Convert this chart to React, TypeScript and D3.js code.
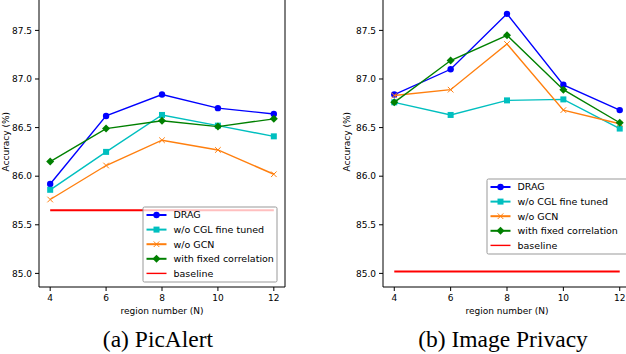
import React, { useRef, useEffect } from 'react';
import * as d3 from 'd3';

// region numbers (N)
const regions = [4, 6, 8, 10, 12];

// (a) PicAlert
const picDrag = [85.92, 86.62, 86.84, 86.70, 86.64];
const picCgl = [85.86, 86.25, 86.63, 86.52, 86.41];
const picGcn = [85.76, 86.11, 86.37, 86.27, 86.02];
const picFixed = [86.15, 86.49, 86.57, 86.51, 86.59];
const picBaseline = 85.65;

// (b) Image Privacy
const privDrag = [86.84, 87.10, 87.67, 86.94, 86.68];
const privCgl = [86.76, 86.63, 86.78, 86.79, 86.49];
const privGcn = [86.83, 86.89, 87.36, 86.68, 86.54];
const privFixed = [86.76, 87.19, 87.45, 86.89, 86.55];
const privBaseline = 85.02;

const yTicks = [85.0, 85.5, 86.0, 86.5, 87.0, 87.5];
const xTicks = [4, 6, 8, 10, 12];
const seriesNames = ['DRAG', 'w/o CGL fine tuned', 'w/o GCN', 'with fixed correlation', 'baseline'];
const seriesColors = ['#0000ff', '#00bfbf', '#ff7f0e', '#008000', '#ff0000'];
const seriesMarkers = ['circle', 'square', 'x', 'diamond', 'none'];

const FONT = 'DejaVu Sans, sans-serif';

function drawMarker(g, type, x, y, color) {
  if (type === 'circle') {
    g.append('circle').attr('cx', x).attr('cy', y).attr('r', 3.2).attr('fill', color);
  } else if (type === 'square') {
    g.append('rect').attr('x', x - 3).attr('y', y - 3).attr('width', 6).attr('height', 6).attr('fill', color);
  } else if (type === 'diamond') {
    const s = 4;
    g.append('path')
      .attr('d', `M${x},${y - s}L${x + s},${y}L${x},${y + s}L${x - s},${y}Z`)
      .attr('fill', color);
  } else if (type === 'x') {
    const s = 2.8;
    g.append('path')
      .attr('d', `M${x - s},${y - s}L${x + s},${y + s}M${x - s},${y + s}L${x + s},${y - s}`)
      .attr('stroke', color).attr('stroke-width', 1);
  }
}

function drawPanel(svg, opts) {
  const { left, right, series, baseline, legend, caption, captionX, ylabelX } = opts;
  const bottom = 287;
  const x = d3.scaleLinear().domain([3.6, 12.4]).range([left, right]);
  const y = d3.scaleLinear().domain([84.86, 87.85]).range([bottom, bottom - 2.99 * 97.2]);

  const g = svg.append('g');

  // baseline
  g.append('line')
    .attr('x1', x(4)).attr('x2', x(12))
    .attr('y1', y(baseline)).attr('y2', y(baseline))
    .attr('stroke', seriesColors[4]).attr('stroke-width', 2);

  const line = d3.line().x((d, i) => x(regions[i])).y(d => y(d));
  series.forEach((vals, si) => {
    g.append('path')
      .attr('d', line(vals))
      .attr('fill', 'none')
      .attr('stroke', seriesColors[si])
      .attr('stroke-width', 1.4);
    vals.forEach((v, i) => drawMarker(g, seriesMarkers[si], x(regions[i]), y(v), seriesColors[si]));
  });

  // spines
  g.append('line').attr('x1', left).attr('x2', left).attr('y1', y.range()[1]).attr('y2', bottom)
    .attr('stroke', '#000').attr('stroke-width', 1);
  g.append('line').attr('x1', left).attr('x2', right).attr('y1', bottom).attr('y2', bottom)
    .attr('stroke', '#000').attr('stroke-width', 1);
  g.append('line').attr('x1', right).attr('x2', right).attr('y1', y.range()[1]).attr('y2', bottom)
    .attr('stroke', '#000').attr('stroke-width', 1);

  // y ticks
  yTicks.forEach(t => {
    g.append('line').attr('x1', left - 4).attr('x2', left).attr('y1', y(t)).attr('y2', y(t))
      .attr('stroke', '#000');
    g.append('text').attr('x', left - 7).attr('y', y(t)).attr('dy', '0.35em')
      .attr('text-anchor', 'end').attr('font-family', FONT).attr('font-size', 9)
      .text(d3.format('.1f')(t));
  });
  // x ticks
  xTicks.forEach(t => {
    g.append('line').attr('x1', x(t)).attr('x2', x(t)).attr('y1', bottom).attr('y2', bottom + 4)
      .attr('stroke', '#000');
    g.append('text').attr('x', x(t)).attr('y', bottom + 11).attr('dy', '0.35em')
      .attr('text-anchor', 'middle').attr('font-family', FONT).attr('font-size', 9)
      .text(t);
  });

  g.append('text').attr('x', (left + right) / 2).attr('y', 311).attr('dy', '0.35em')
    .attr('text-anchor', 'middle').attr('font-family', FONT).attr('font-size', 9)
    .text('region number (N)');
  g.append('text')
    .attr('transform', `translate(${ylabelX},${(bottom + y.range()[1]) / 2}) rotate(-90)`)
    .attr('text-anchor', 'middle').attr('dy', '0.35em').attr('font-family', FONT).attr('font-size', 9)
    .text('Accuracy (%)');

  // legend
  const lg = g.append('g');
  lg.append('rect')
    .attr('x', legend.x).attr('y', legend.y).attr('width', legend.w).attr('height', legend.h)
    .attr('fill', 'white').attr('fill-opacity', 0.75)
    .attr('stroke', '#999').attr('stroke-width', 1).attr('rx', 1.5);
  seriesNames.forEach((name, i) => {
    const cy = legend.y + 8 + i * 14.6;
    const hx = legend.x + 3.5;
    lg.append('line').attr('x1', hx).attr('x2', hx + 20).attr('y1', cy).attr('y2', cy)
      .attr('stroke', seriesColors[i]).attr('stroke-width', i === 4 ? 1.4 : 2);
    drawMarker(lg, seriesMarkers[i], hx + 10, cy, seriesColors[i]);
    lg.append('text').attr('x', hx + 27).attr('y', cy).attr('dy', '0.35em')
      .attr('font-family', FONT).attr('font-size', 9.5).text(name);
  });

  g.append('text').attr('x', captionX).attr('y', 347)
    .attr('text-anchor', 'middle').attr('font-family', 'Liberation Serif, Times New Roman, serif')
    .attr('font-size', 23.5).text(caption);
}

export default function App() {
  const svgRef = useRef(null);

  useEffect(() => {
    const svg = d3.select(svgRef.current);
    svg.selectAll('*').remove();
    svg.append('rect').attr('width', 626).attr('height', 354).attr('fill', 'white');

    drawPanel(svg, {
      left: 39, right: 285,
      series: [picDrag, picCgl, picGcn, picFixed],
      baseline: picBaseline,
      legend: { x: 143, y: 207, w: 134, h: 75 },
      caption: '(a) PicAlert', captionX: 158, ylabelX: 6,
    });
    drawPanel(svg, {
      left: 383, right: 631,
      series: [privDrag, privCgl, privGcn, privFixed],
      baseline: privBaseline,
      legend: { x: 487, y: 179, w: 141, h: 75 },
      caption: '(b) Image Privacy', captionX: 503, ylabelX: 347,
    });
  }, []);

  return (
    <svg ref={svgRef} width={626} height={354}
      style={{ position: 'absolute', left: 0, top: 0, display: 'block' }} />
  );
}
